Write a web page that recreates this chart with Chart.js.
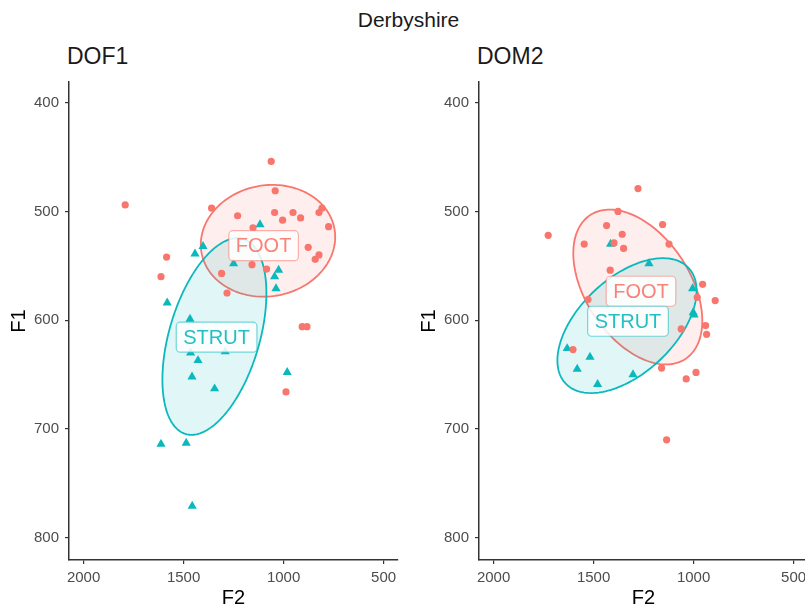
<!DOCTYPE html>
<html>
<head>
<meta charset="utf-8">
<script src="https://cdn.jsdelivr.net/npm/chart.js@4.4.1/dist/chart.umd.min.js"></script>
<style>
  html, body { margin: 0; padding: 0; background: #fff; }
  body { width: 805px; height: 610px; overflow: hidden; position: relative; font-family: 'Liberation Sans', Arial, sans-serif; }
  .txt { position: absolute; color: #1a1a1a; white-space: nowrap; }
  #main { left: 0; width: 817px; top: 8px; text-align: center; font-size: 21px; line-height: 24px; }
  .panel-title { top: 43px; font-size: 23px; line-height: 26px; }
  canvas { position: absolute; top: 0; }
</style>
</head>
<body>
<div id="main" class="txt">Derbyshire</div>
<div class="txt panel-title" style="left:67px">DOF1</div>
<div class="txt panel-title" style="left:477px">DOM2</div>
<canvas id="dof1" width="410" height="610" style="left:0"></canvas>
<canvas id="dom2" width="410" height="610" style="left:410px"></canvas>
<script>
const FOOT = '#F8766D';
const STRUT = '#0BB9BD';

const xTicks = [500, 1000, 1500, 2000];
const yTicks = [400, 500, 600, 700, 800];

// DOF1 speaker
const dof1FootF2 = [1062, 1792, 1042, 1360, 1230, 1045, 953, 915, 1005, 808, 823, 775, 1153, 877, 823, 842, 1585, 1158, 1085, 1310, 1613, 1283, 907, 883, 988];
const dof1FootF1 = [454, 494, 481, 497, 504, 501, 501, 506, 508, 497, 501, 514, 515, 533, 540, 544, 542, 549, 553, 557, 560, 575, 606, 606, 666];
const dof1StrutF2 = [1118, 1403, 1443, 1250, 1025, 1045, 1038, 1582, 1468, 1465, 1292, 1428, 1458, 1345, 982, 1613, 1487, 1457];
const dof1StrutF1 = [512, 532, 539, 548, 554, 560, 571, 584, 599, 630, 629, 637, 652, 663, 648, 714, 713, 771];

// DOM2 speaker
const dom2FootF2 = [1278, 1727, 1378, 1435, 1155, 1357, 1547, 1398, 1350, 1123, 1417, 955, 982, 892, 1528, 940, 935, 1062, 1603, 1160, 1037, 988, 1135];
const dom2FootF1 = [479, 522, 500, 513, 512, 521, 530, 529, 534, 530, 554, 567, 579, 582, 581, 605, 613, 608, 627, 644, 654, 648, 710];
const dom2StrutF2 = [1415, 1223, 1005, 1002, 998, 1632, 1518, 1582, 1480, 1303];
const dom2StrutF1 = [530, 548, 571, 593, 595, 626, 634, 645, 659, 650];

// ellipses: [F2 centre, F1 centre, F2 half-extent, F1 shift at the F2 extreme, F1 half-extent]
const dof1FootEllipse = [1078, 527, 336, 3.5, 51.4];
const dof1StrutEllipse = [1346, 615, 260, 39.7, 90.4];
const dom2FootEllipse = [1279, 569.5, 322.5, -31, 71.2];
const dom2StrutEllipse = [1333, 605, 348, 32, 62];

// group labels: [F2, F1]
const dof1FootLabel = [1100, 531.5];
const dof1StrutLabel = [1335, 615.6];
const dom2FootLabel = [1263, 573.4];
const dom2StrutLabel = [1328, 601];

Chart.defaults.font.family = "'Liberation Sans', Arial, sans-serif";

function rgba(hex, a) {
    const n = parseInt(hex.slice(1), 16);
    return `rgba(${(n >> 16) & 255},${(n >> 8) & 255},${n & 255},${a})`;
}

const toPoints = (xs, ys) => xs.map((x, i) => ({ x: x, y: ys[i] }));

const ellipsePlugin = {
    id: 'ellipses',
    beforeDatasetsDraw(chart, args, opts) {
        const { ctx, chartArea, scales: { x, y } } = chart;
        ctx.save();
        ctx.beginPath();
        ctx.rect(chartArea.left, chartArea.top, chartArea.right - chartArea.left, chartArea.bottom - chartArea.top);
        ctx.clip();
        opts.items.forEach(e => {
            const [c2, c1, a, s, h] = e.params;
            const b = Math.sqrt(h * h - s * s);
            ctx.beginPath();
            for (let i = 0; i <= 180; i++) {
                const t = i / 180 * Math.PI * 2;
                const px = x.getPixelForValue(c2 + a * Math.cos(t));
                const py = y.getPixelForValue(c1 + s * Math.cos(t) + b * Math.sin(t));
                if (i === 0) ctx.moveTo(px, py); else ctx.lineTo(px, py);
            }
            ctx.closePath();
            ctx.fillStyle = rgba(e.color, 0.12);
            ctx.fill();
            ctx.lineWidth = 1.8;
            ctx.strokeStyle = e.color;
            ctx.stroke();
        });
        ctx.restore();
    }
};

const labelPlugin = {
    id: 'groupLabels',
    afterDatasetsDraw(chart, args, opts) {
        const { ctx, scales: { x, y } } = chart;
        ctx.save();
        ctx.font = "20px 'Liberation Sans', Arial, sans-serif";
        ctx.textAlign = 'center';
        ctx.textBaseline = 'middle';
        opts.items.forEach(l => {
            const cx = x.getPixelForValue(l.pos[0]);
            const cy = y.getPixelForValue(l.pos[1]);
            const w = ctx.measureText(l.text).width + 14;
            const h = 30;
            const r = 4;
            const x0 = cx - w / 2, y0 = cy - h / 2;
            ctx.beginPath();
            ctx.moveTo(x0 + r, y0);
            ctx.arcTo(x0 + w, y0, x0 + w, y0 + h, r);
            ctx.arcTo(x0 + w, y0 + h, x0, y0 + h, r);
            ctx.arcTo(x0, y0 + h, x0, y0, r);
            ctx.arcTo(x0, y0, x0 + w, y0, r);
            ctx.closePath();
            ctx.fillStyle = 'rgba(255,255,255,0.85)';
            ctx.fill();
            ctx.lineWidth = 1.2;
            ctx.strokeStyle = rgba(l.color, 0.55);
            ctx.stroke();
            ctx.fillStyle = rgba(l.color, 0.9);
            ctx.fillText(l.text, cx, cy + 1);
        });
        ctx.restore();
    }
};

function makePanel(id, p) {
    new Chart(document.getElementById(id), {
        type: 'scatter',
        data: {
            datasets: [
                { label: 'FOOT', data: toPoints(p.footF2, p.footF1), pointStyle: 'circle', pointRadius: 3.6, backgroundColor: FOOT, borderWidth: 0 },
                { label: 'STRUT', data: toPoints(p.strutF2, p.strutF1), pointStyle: 'triangle', pointRadius: 5.3, backgroundColor: STRUT, borderWidth: 0 }
            ]
        },
        options: {
            responsive: false,
            animation: false,
            layout: { padding: { top: 82, right: 12, bottom: 0, left: 0 } },
            plugins: {
                legend: { display: false },
                tooltip: { enabled: false },
                ellipses: { items: [
                    { params: p.footEllipse, color: FOOT },
                    { params: p.strutEllipse, color: STRUT }
                ] },
                groupLabels: { items: [
                    { text: 'FOOT', pos: p.footLabel, color: FOOT },
                    { text: 'STRUT', pos: p.strutLabel, color: STRUT }
                ] }
            },
            scales: {
                x: {
                    type: 'linear',
                    reverse: true,
                    min: 428,
                    max: 2073,
                    afterBuildTicks: s => { s.ticks = xTicks.map(v => ({ value: v })); },
                    afterFit: s => { s.height = 50; },
                    grid: { drawOnChartArea: false, drawTicks: true, tickLength: 4, color: '#333', lineWidth: 1.2 },
                    border: { display: true, color: '#333', width: 1.5 },
                    ticks: { autoSkip: false, maxRotation: 0, font: { size: 15 }, color: '#4d4d4d', padding: 5, callback: v => String(v) },
                    title: { display: true, text: 'F2', font: { size: 20 }, color: '#000', padding: { top: 0, bottom: 0 } }
                },
                y: {
                    type: 'linear',
                    reverse: true,
                    min: 381,
                    max: 820.5,
                    afterBuildTicks: s => { s.ticks = yTicks.map(v => ({ value: v })); },
                    afterFit: s => { s.width = 69; },
                    grid: { drawOnChartArea: false, drawTicks: true, tickLength: 4, color: '#333', lineWidth: 1.2 },
                    border: { display: true, color: '#333', width: 1.5 },
                    ticks: { font: { size: 15 }, color: '#4d4d4d', padding: 6, callback: v => String(v) },
                    title: { display: true, text: 'F1', font: { size: 20 }, color: '#000', padding: { top: 7, bottom: 0 } }
                }
            }
        },
        plugins: [ellipsePlugin, labelPlugin]
    });
}

makePanel('dof1', {
    footF2: dof1FootF2, footF1: dof1FootF1, strutF2: dof1StrutF2, strutF1: dof1StrutF1,
    footEllipse: dof1FootEllipse, strutEllipse: dof1StrutEllipse,
    footLabel: dof1FootLabel, strutLabel: dof1StrutLabel
});
makePanel('dom2', {
    footF2: dom2FootF2, footF1: dom2FootF1, strutF2: dom2StrutF2, strutF1: dom2StrutF1,
    footEllipse: dom2FootEllipse, strutEllipse: dom2StrutEllipse,
    footLabel: dom2FootLabel, strutLabel: dom2StrutLabel
});
</script>
</body>
</html>
